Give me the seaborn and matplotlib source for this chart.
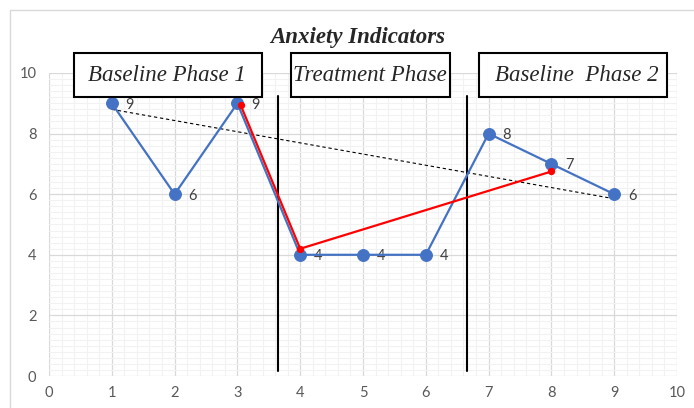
import matplotlib
matplotlib.use("Agg")
import matplotlib.pyplot as plt
from matplotlib.patches import Rectangle
from matplotlib.ticker import MultipleLocator
import numpy as np
import pandas as pd
import seaborn as sns

# Session scores
sessions = [1, 2, 3, 4, 5, 6, 7, 8, 9]
scores = [9, 6, 9, 4, 4, 4, 8, 7, 6]

# Red trend path through the phases
trend_x = [3.05, 4.0, 8.0]
trend_y = [8.95, 4.2, 6.75]

# Dashed overall trend between baselines
base_x = [1.0, 9.0]
base_y = [8.8, 5.85]

# Phase boundaries
phase_breaks = [3.65, 6.65]

# Phase headings: label, box left, box right, text centre
phase_labels = ["Baseline Phase 1", "Treatment Phase", "Baseline  Phase 2"]
phase_left = [0.40, 3.85, 6.84]
phase_right = [3.39, 6.38, 9.84]
phase_centre = [1.88, 5.11, 8.40]

sns.set_theme(style="white")
plt.rcParams["font.family"] = ["Lato", "DejaVu Sans"]

fig = plt.figure(figsize=(6.94, 4.08), dpi=100)
fig.patch.set_facecolor("white")
ax = fig.add_axes([49 / 694, 1 - 376 / 408, (677 - 49) / 694, (376 - 73) / 408])

# Chart frame
fig.add_artist(Rectangle((10 / 694, -0.1), 1.0, 1 - 10 / 408 + 0.1,
                         transform=fig.transFigure, fill=False,
                         edgecolor="#d9d9d9", linewidth=1.0))

ax.set_xlim(0, 10)
ax.set_ylim(0, 10)
ax.xaxis.set_major_locator(MultipleLocator(1))
ax.yaxis.set_major_locator(MultipleLocator(2))
ax.xaxis.set_minor_locator(MultipleLocator(0.2))
ax.yaxis.set_minor_locator(MultipleLocator(0.2))
ax.grid(which="minor", color="#f2f2f2", linewidth=0.8)
ax.grid(which="major", color="#d9d9d9", linewidth=0.9)
ax.set_axisbelow(True)
for s in ax.spines.values():
    s.set_visible(False)
ax.tick_params(which="both", length=0)
ax.tick_params(axis="y", pad=9, labelsize=10.5, labelcolor="#595959")
ax.tick_params(axis="x", pad=7, labelsize=10.5, labelcolor="#595959")

df = pd.DataFrame({"session": sessions, "score": scores})
sns.lineplot(data=df, x="session", y="score", ax=ax, color="#4472C4",
             linewidth=1.6, marker="o", markersize=8.5,
             markeredgecolor="#4472C4", zorder=4)

sns.lineplot(x=trend_x, y=trend_y, ax=ax, color="#ff0000", linewidth=1.6,
             marker="o", markersize=4.5, markeredgecolor="#ff0000",
             sort=False, zorder=5)
ax.plot(base_x, base_y, color="black", linewidth=0.8,
        linestyle=(0, (3, 2.5)), zorder=3)

for xb in phase_breaks:
    ax.plot([xb, xb], [0.16, 9.24], color="black", linewidth=1.5, zorder=3)

for x, y in zip(sessions, scores):
    ax.annotate(str(y), (x, y), xytext=(10, -1), textcoords="offset points",
                ha="left", va="center", fontsize=10.5, color="#404040")

for lab, l, r, c in zip(phase_labels, phase_left, phase_right, phase_centre):
    ax.add_patch(Rectangle((l, 9.21), r - l, 1.45, fill=True,
                           facecolor="white", edgecolor="black",
                           linewidth=1.5, clip_on=False, zorder=6))
    ax.text(c, 9.93, lab, ha="center", va="center", fontsize=16.5,
            family="Liberation Serif", style="italic", zorder=7)

ax.set_xlabel("")
ax.set_ylabel("")
fig.text(358 / 694, 1 - 38 / 408, "Anxiety Indicators", ha="center",
         va="center", fontsize=16.5, family="Liberation Serif",
         style="italic", weight="bold")

fig.savefig("out.png", dpi=100, facecolor="white")
